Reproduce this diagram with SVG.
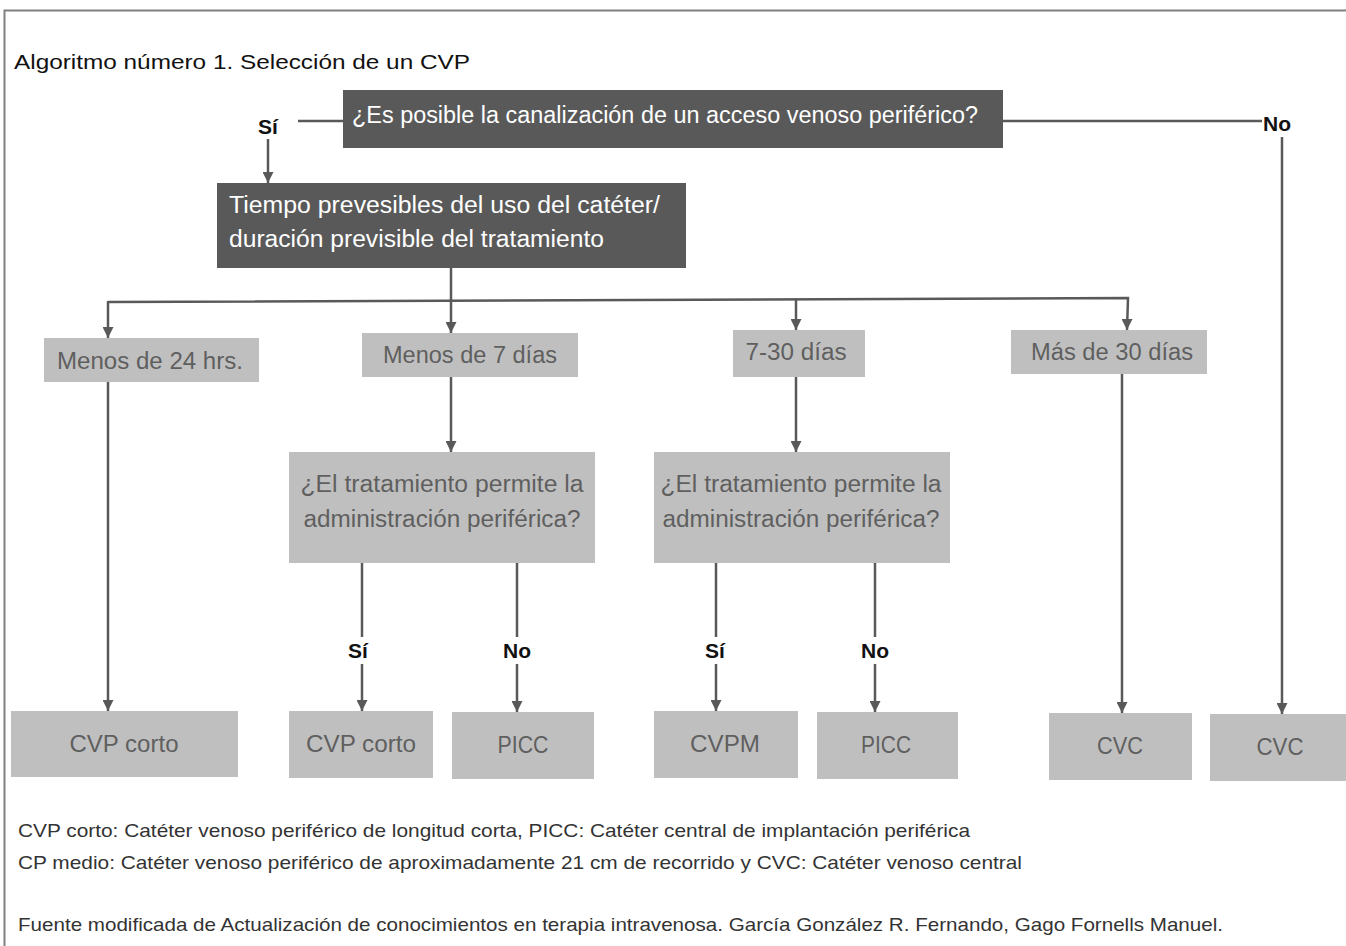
<svg xmlns="http://www.w3.org/2000/svg" width="1346" height="946" viewBox="0 0 1346 946">
<style>
text{font-family:"Liberation Sans",Arial,sans-serif}
.dark{fill:#595959}
.light{fill:#bfbfbf}
.wt{fill:#ffffff;font-size:23px}
.gt{fill:#5f5f5f;font-size:23px;text-anchor:middle}
.lbl{fill:#111;font-size:21px;font-weight:bold;text-anchor:middle}
.foot{fill:#333;font-size:18.5px}
.con{fill:none;stroke:#595959;stroke-width:2.5}
.frame{fill:none;stroke:#808080;stroke-width:2}
</style>
<defs>
<marker id="ad" markerWidth="11" markerHeight="11" refX="5.5" refY="11" orient="0" markerUnits="userSpaceOnUse" viewBox="0 0 11 11">
<path d="M0,0 L11,0 L5.5,11 Z" fill="#595959"/>
</marker>
</defs>
<path class="frame" d="M4.5,946 L4.5,10.5 L1346,10.5"/>
<text x="14" y="69" style="font-size:21px;fill:#111" textLength="456" lengthAdjust="spacingAndGlyphs">Algoritmo número 1. Selección de un CVP</text>

<g id="connectors">
<path class="con" d="M298,121 L343,121"/>
<path class="con" d="M268,139 L268,183" marker-end="url(#ad)"/>
<path class="con" d="M1003,121 L1262,121"/>
<path class="con" d="M1282,137 L1282,714" marker-end="url(#ad)"/>
<path class="con" d="M451,268 L451,333" marker-end="url(#ad)"/>
<path class="con" d="M108,302 L1128,298 L1127,330" marker-end="url(#ad)"/>
<path class="con" d="M108,301 L108,338" marker-end="url(#ad)"/>
<path class="con" d="M796,299 L796,330" marker-end="url(#ad)"/>
<path class="con" d="M108,382 L108,711" marker-end="url(#ad)"/>
<path class="con" d="M451,377 L451,452" marker-end="url(#ad)"/>
<path class="con" d="M796,377 L796,452" marker-end="url(#ad)"/>
<path class="con" d="M1122,374 L1122,713" marker-end="url(#ad)"/>
<path class="con" d="M362,563 L362,637"/>
<path class="con" d="M362,664 L362,711" marker-end="url(#ad)"/>
<path class="con" d="M517,563 L517,637"/>
<path class="con" d="M517,664 L517,712" marker-end="url(#ad)"/>
<path class="con" d="M716,563 L716,637"/>
<path class="con" d="M716,664 L716,711" marker-end="url(#ad)"/>
<path class="con" d="M875,563 L875,637"/>
<path class="con" d="M875,664 L875,712" marker-end="url(#ad)"/>
<text class="lbl" x="268" y="134">Sí</text>
<text class="lbl" x="1277" y="131">No</text>
<text class="lbl" x="358" y="658">Sí</text>
<text class="lbl" x="517" y="658">No</text>
<text class="lbl" x="715" y="658">Sí</text>
<text class="lbl" x="875" y="658">No</text>
</g>

<g id="q1">
<rect class="dark" x="343" y="90" width="660" height="58"/>
<text class="wt" x="352" y="123" textLength="626" lengthAdjust="spacingAndGlyphs">¿Es posible la canalización de un acceso venoso periférico?</text>
</g>
<g id="tiempo">
<rect class="dark" x="217" y="183" width="469" height="85"/>
<text class="wt" x="229" y="213" textLength="431" lengthAdjust="spacingAndGlyphs">Tiempo prevesibles del uso del catéter/</text>
<text class="wt" x="229" y="247" textLength="375" lengthAdjust="spacingAndGlyphs">duración previsible del tratamiento</text>
</g>
<g id="menos24">
<rect class="light" x="44" y="338" width="215" height="44"/>
<text class="gt" x="150" y="369" textLength="186" lengthAdjust="spacingAndGlyphs">Menos de 24 hrs.</text>
</g>
<g id="menos7">
<rect class="light" x="362" y="333" width="216" height="44"/>
<text class="gt" x="470" y="363" textLength="174" lengthAdjust="spacingAndGlyphs">Menos de 7 días</text>
</g>
<g id="d7a30">
<rect class="light" x="733" y="330" width="132" height="47"/>
<text class="gt" x="796" y="360" textLength="101" lengthAdjust="spacingAndGlyphs">7-30 días</text>
</g>
<g id="mas30">
<rect class="light" x="1011" y="330" width="196" height="44"/>
<text class="gt" x="1112" y="360" textLength="162" lengthAdjust="spacingAndGlyphs">Más de 30 días</text>
</g>
<g id="dec1">
<rect class="light" x="289" y="452" width="306" height="111"/>
<text class="gt" x="442" y="492" textLength="283" lengthAdjust="spacingAndGlyphs">¿El tratamiento permite la</text>
<text class="gt" x="442" y="527" textLength="277" lengthAdjust="spacingAndGlyphs">administración periférica?</text>
</g>
<g id="dec2">
<rect class="light" x="654" y="452" width="296" height="111"/>
<text class="gt" x="801" y="492" textLength="281" lengthAdjust="spacingAndGlyphs">¿El tratamiento permite la</text>
<text class="gt" x="801" y="527" textLength="277" lengthAdjust="spacingAndGlyphs">administración periférica?</text>
</g>
<g id="cvpcorto1">
<rect class="light" x="11" y="711" width="227" height="66"/>
<text class="gt" x="124" y="752" textLength="109" lengthAdjust="spacingAndGlyphs">CVP corto</text>
</g>
<g id="cvpcorto2">
<rect class="light" x="289" y="711" width="144" height="67"/>
<text class="gt" x="361" y="752" textLength="110" lengthAdjust="spacingAndGlyphs">CVP corto</text>
</g>
<g id="picc1">
<rect class="light" x="452" y="712" width="142" height="67"/>
<text class="gt" x="523" y="753" textLength="51" lengthAdjust="spacingAndGlyphs">PICC</text>
</g>
<g id="cvpm">
<rect class="light" x="654" y="711" width="144" height="67"/>
<text class="gt" x="725" y="752" textLength="70" lengthAdjust="spacingAndGlyphs">CVPM</text>
</g>
<g id="picc2">
<rect class="light" x="817" y="712" width="141" height="67"/>
<text class="gt" x="886" y="753" textLength="50" lengthAdjust="spacingAndGlyphs">PICC</text>
</g>
<g id="cvc1">
<rect class="light" x="1049" y="713" width="143" height="67"/>
<text class="gt" x="1120" y="754" textLength="46" lengthAdjust="spacingAndGlyphs">CVC</text>
</g>
<g id="cvc2">
<rect class="light" x="1210" y="714" width="136" height="67"/>
<text class="gt" x="1280" y="755" textLength="47" lengthAdjust="spacingAndGlyphs">CVC</text>
</g>

<text class="foot" x="18" y="837" textLength="952" lengthAdjust="spacingAndGlyphs">CVP corto: Catéter venoso periférico de longitud corta, PICC: Catéter central de implantación periférica</text>
<text class="foot" x="18" y="869" textLength="1004" lengthAdjust="spacingAndGlyphs">CP medio: Catéter venoso periférico de aproximadamente 21 cm de recorrido y CVC: Catéter venoso central</text>
<text class="foot" x="18" y="931" textLength="1205" lengthAdjust="spacingAndGlyphs">Fuente modificada de Actualización de conocimientos en terapia intravenosa. García González R. Fernando, Gago Fornells Manuel.</text>
</svg>
